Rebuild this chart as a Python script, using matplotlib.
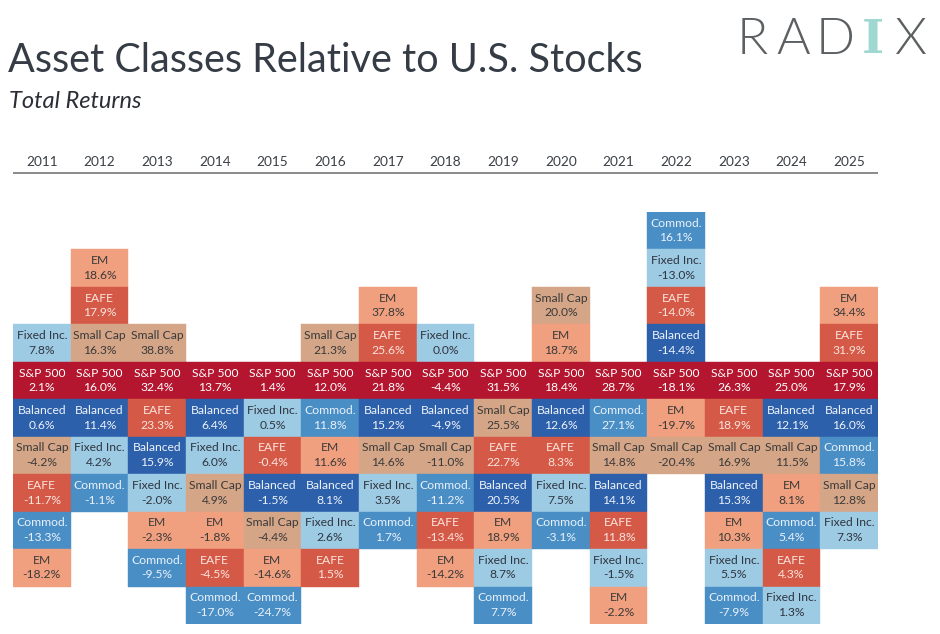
import matplotlib
matplotlib.use("Agg")
import matplotlib.pyplot as plt
import matplotlib.patches as patches

# yearly total returns (%)
years = [2011, 2012, 2013, 2014, 2015, 2016, 2017, 2018, 2019, 2020, 2021, 2022, 2023, 2024, 2025]
sp500 = [2.1, 16.0, 32.4, 13.7, 1.4, 12.0, 21.8, -4.4, 31.5, 18.4, 28.7, -18.1, 26.3, 25.0, 17.9]
balanced = [0.6, 11.4, 15.9, 6.4, -1.5, 8.1, 15.2, -4.9, 20.5, 12.6, 14.1, -14.4, 15.3, 12.1, 16.0]
small_cap = [-4.2, 16.3, 38.8, 4.9, -4.4, 21.3, 14.6, -11.0, 25.5, 20.0, 14.8, -20.4, 16.9, 11.5, 12.8]
eafe = [-11.7, 17.9, 23.3, -4.5, -0.4, 1.5, 25.6, -13.4, 22.7, 8.3, 11.8, -14.0, 18.9, 4.3, 31.9]
em = [-18.2, 18.6, -2.3, -1.8, -14.6, 11.6, 37.8, -14.2, 18.9, 18.7, -2.2, -19.7, 10.3, 8.1, 34.4]
fixed_inc = [7.8, 4.2, -2.0, 6.0, 0.5, 2.6, 3.5, 0.0, 8.7, 7.5, -1.5, -13.0, 5.5, 1.3, 7.3]
commod = [-13.3, -1.1, -9.5, -17.0, -24.7, 11.8, 1.7, -11.2, 7.7, -3.1, 27.1, 16.1, -7.9, 5.4, 15.8]

assets = {
    "S&P 500": sp500,
    "Balanced": balanced,
    "Small Cap": small_cap,
    "EAFE": eafe,
    "EM": em,
    "Fixed Inc.": fixed_inc,
    "Commod.": commod,
}

# fill colour, text colour
styles = {
    "S&P 500": ("#b3162e", "white"),
    "Balanced": ("#2c60aa", "#eef3fb"),
    "Small Cap": ("#d5a587", "#3a3a3a"),
    "EAFE": ("#d45a47", "#fbe4de"),
    "EM": ("#f0a07e", "#3a3a3a"),
    "Fixed Inc.": ("#9ecbe4", "#2f3540"),
    "Commod.": ("#4a8ec6", "#eaf2fa"),
}

FONT = "Lato"

fig = plt.figure(figsize=(9.4, 6.34), dpi=100)
fig.patch.set_facecolor("white")

# grid area: 15 columns, S&P row at y=0, up to 4 rows above and 6 below
ax = fig.add_axes([13 / 940, 1 - 624 / 634, 865 / 940, 412 / 634])
ax.set_xlim(-0.5, len(years) - 0.5)
ax.set_ylim(-6.5, 4.5)
ax.axis("off")

for i, yr in enumerate(years):
    vals = sorted(((assets[a][i], a) for a in assets), reverse=True)
    k = [a for v, a in vals].index("S&P 500")
    for j, (v, a) in enumerate(vals):
        y = k - j
        fc, tc = styles[a]
        ax.add_patch(patches.Rectangle((i - 0.5, y - 0.5), 1, 1, facecolor=fc,
                                       edgecolor=fc, linewidth=0.3))
        ax.text(i, y + 0.2, a, ha="center", va="center", fontsize=8.75,
                color=tc, family=FONT)
        ax.text(i, y - 0.19, "%.1f%%" % v, ha="center", va="center",
                fontsize=8.75, color=tc, family=FONT)

# year header and rule
for i, yr in enumerate(years):
    ax.text(i, 5.83, str(yr), ha="center", va="center", fontsize=9.8,
            color="#3a3f46", family=FONT, clip_on=False)
ax.plot([-0.5, len(years) - 0.5], [5.55, 5.55], color="#8a8a8a", lw=1.4,
        clip_on=False, solid_capstyle="butt")

# titles
fig.text(8 / 940, 1 - 61 / 634, "Asset Classes Relative to U.S. Stocks",
         fontsize=28.5, color="#353c45", family=FONT, va="center", ha="left")
fig.text(9 / 940, 1 - 101 / 634, "Total Returns", fontsize=17,
         color="#2b2f35", family=FONT, style="italic", va="center", ha="left")

# logo
logo = [("R", 752, "#5c6062"), ("A", 793, "#5c6062"), ("D", 835, "#5c6062"),
        ("X", 911, "#5c6062")]
for ch, xp, col in logo:
    fig.text(xp / 940, 1 - 40 / 634, ch, fontsize=37, color=col,
             family=FONT, fontweight=300, ha="center", va="center")
fig.text(873 / 940, 1 - 40 / 634, "I", fontsize=34, color="#9fd8d0",
         family="DejaVu Serif", fontweight="bold", ha="center", va="center")

fig.savefig("out.png", dpi=100, facecolor="white")
